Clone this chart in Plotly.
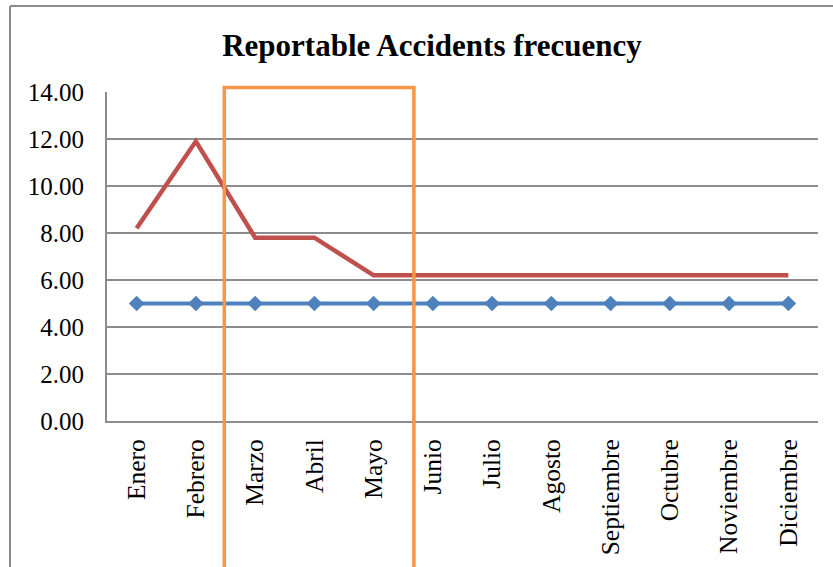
import plotly.graph_objects as go

# Monthly data
months = ["Enero", "Febrero", "Marzo", "Abril", "Mayo", "Junio", "Julio",
          "Agosto", "Septiembre", "Octubre", "Noviembre", "Diciembre"]
target = [5.0, 5.0, 5.0, 5.0, 5.0, 5.0, 5.0, 5.0, 5.0, 5.0, 5.0, 5.0]
frequency = [8.2, 11.9, 7.8, 7.8, 6.2, 6.2, 6.2, 6.2, 6.2, 6.2, 6.2, 6.2]
y_ticks = [0, 2, 4, 6, 8, 10, 12, 14]

# Highlighted span (category index positions)
highlight_start = 1.48
highlight_end = 4.68

W, H = 833, 567
L, R, T, B = 107, 15, 92, 146
pw, ph = W - L - R, H - T - B

def px_x(px):
    return (px - L) / pw

def px_y(py):
    return (H - B - py) / ph

fig = go.Figure()

fig.add_trace(go.Scatter(
    x=months, y=target, mode="lines+markers",
    line=dict(color="#4F81BD", width=4),
    marker=dict(symbol="diamond", size=12, color="#4F81BD"),
    showlegend=False,
))
fig.add_trace(go.Scatter(
    x=months, y=frequency, mode="lines",
    line=dict(color="#C0504D", width=4.5),
    showlegend=False,
))

font = "Liberation Serif"
grid = "#8c8c8c"

fig.update_layout(
    width=W, height=H,
    margin=dict(l=L, r=R, t=T, b=B),
    paper_bgcolor="white", plot_bgcolor="white",
    font=dict(family=font, color="black", size=25),
    title=dict(text="<b>Reportable Accidents frecuency</b>",
               x=432 / W, xref="container", xanchor="center",
               y=1 - 45 / H, yref="container", yanchor="middle",
               font=dict(family=font, size=31, color="black")),
    xaxis=dict(
        type="category", range=[-0.5, 11.5],
        showgrid=False, showline=True, linecolor=grid, linewidth=2,
        tickangle=-90, ticks="", ticklabelstandoff=6,
        tickfont=dict(family=font, size=25.5, color="black"),
        fixedrange=True,
    ),
    yaxis=dict(
        range=[0, 14], tickvals=y_ticks,
        ticktext=[f"{v:.2f}" for v in y_ticks],
        showgrid=True, gridcolor=grid, gridwidth=2,
        showline=True, linecolor=grid, linewidth=2,
        zeroline=False, ticks="", ticklabelstandoff=16,
        tickfont=dict(family=font, size=25, color="black"),
        fixedrange=True,
    ),
    shapes=[
        # chart frame (top and left edges)
        dict(type="line", xref="paper", yref="paper",
             x0=px_x(10), x1=px_x(840), y0=px_y(6), y1=px_y(6),
             line=dict(color="#8c8c8c", width=2)),
        dict(type="line", xref="paper", yref="paper",
             x0=px_x(10), x1=px_x(10), y0=px_y(6), y1=px_y(580),
             line=dict(color="#8c8c8c", width=2)),
        # highlight box
        dict(type="rect", xref="x", yref="paper",
             x0=highlight_start, x1=highlight_end,
             y0=px_y(600), y1=px_y(87.5),
             line=dict(color="#F79646", width=3.5),
             fillcolor="rgba(0,0,0,0)"),
    ],
)

fig.write_html("out.html")
